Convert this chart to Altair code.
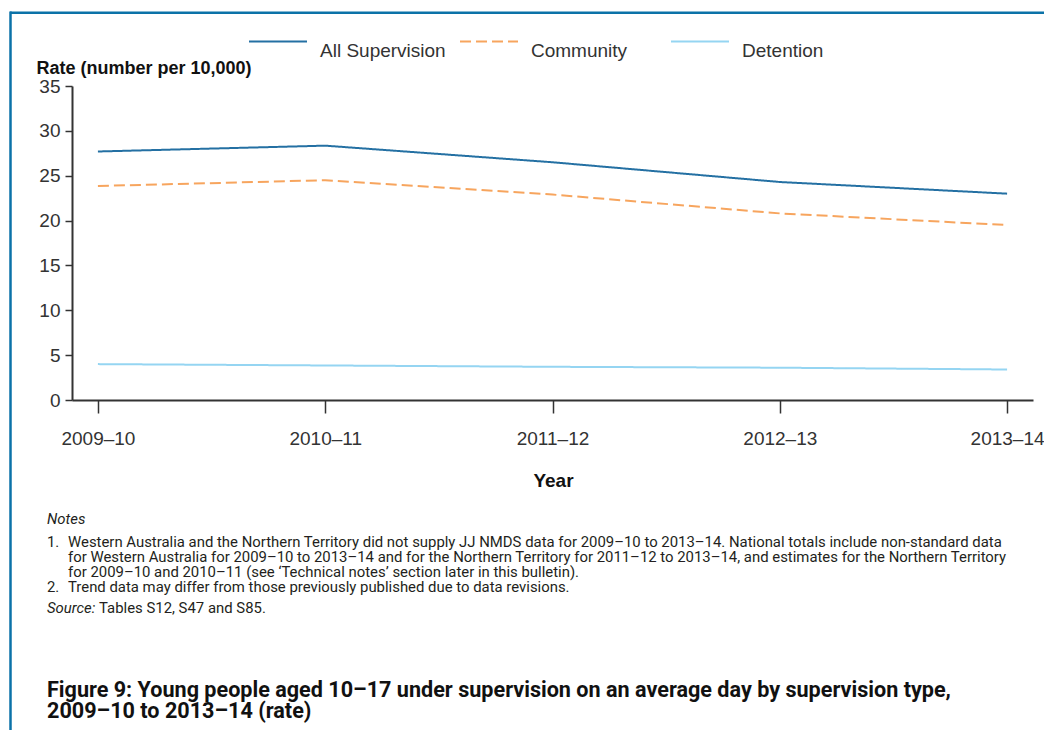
import altair as alt
import pandas as pd

# ---- data ----
years = ["2009–10", "2010–11", "2011–12", "2012–13", "2013–14"]
all_supervision = [27.7, 28.35, 26.5, 24.3, 23.0]
community = [23.85, 24.5, 22.9, 20.8, 19.5]
detention = [4.0, 3.85, 3.7, 3.6, 3.4]
series_names = ["All Supervision", "Community", "Detention"]
series_colors = ["#2470a3", "#f7a55e", "#95d5f2"]
series_dash = [[1, 0], [11, 5], [1, 0]]
y_ticks = [0, 5, 10, 15, 20, 25, 30, 35]

notes_heading = "Notes"
note_numbers = ["1.", "2."]
note_lines = [
    "Western Australia and the Northern Territory did not supply JJ NMDS data for 2009–10 to 2013–14. National totals include non-standard data",
    "for Western Australia for 2009–10 to 2013–14 and for the Northern Territory for 2011–12 to 2013–14, and estimates for the Northern Territory",
    "for 2009–10 and 2010–11 (see ‘Technical notes’ section later in this bulletin).",
    "Trend data may differ from those previously published due to data revisions.",
]
source_label = "Source:"
source_text = "Tables S12, S47 and S85."
figure_title = [
    "Figure 9: Young people aged 10–17 under supervision on an average day by supervision type,",
    "2009–10 to 2013–14 (rate)",
]

rows = []
for name, vals in zip(series_names, [all_supervision, community, detention]):
    for yr, v in zip(years, vals):
        rows.append({"Year": yr, "Rate": v, "Series": name})
df = pd.DataFrame(rows)

AX_FONT = "Liberation Sans, Arial, Helvetica, sans-serif"
NOTE_FONT = "Roboto, sans-serif"
BORDER = "#0b72a8"
W, H = 961, 314

lines = alt.Chart(df).mark_line(strokeWidth=2).encode(
    x=alt.X(
        "Year:N",
        sort=years,
        scale=alt.Scale(type="point", padding=0.114),
        axis=alt.Axis(
            title="Year",
            labelAngle=0,
            labelFontSize=19,
            labelFont=AX_FONT,
            labelColor="#333333",
            labelPadding=16,
            tickSize=13,
            tickColor="#333333",
            tickWidth=1.5,
            domainColor="#333333",
            domainWidth=2,
            titleFont=AX_FONT,
            titleFontSize=19,
            titleFontWeight="bold",
            titleColor="#111111",
            titleX=481,
            titleY=80,
            titleBaseline="middle",
            titleAnchor="middle",
            grid=False,
        ),
    ),
    y=alt.Y(
        "Rate:Q",
        scale=alt.Scale(domain=[0, 35], nice=False),
        axis=alt.Axis(
            title="Rate (number per 10,000)",
            values=y_ticks,
            labelFontSize=19,
            labelFont=AX_FONT,
            labelColor="#333333",
            labelPadding=5,
            tickSize=7,
            tickColor="#333333",
            tickWidth=1.5,
            domainColor="#333333",
            domainWidth=2,
            titleFont=AX_FONT,
            titleFontSize=18,
            titleFontWeight="bold",
            titleColor="#111111",
            titleAngle=0,
            titleAlign="left",
            titleBaseline="middle",
            titleX=-36,
            titleY=-18,
            grid=False,
        ),
    ),
    color=alt.Color(
        "Series:N",
        scale=alt.Scale(domain=series_names, range=series_colors),
        legend=alt.Legend(
            title=None,
            orient="none",
            legendX=176,
            legendY=-74.5,
            direction="horizontal",
            columns=3,
            gridAlign="all",
            columnPadding=10,
            symbolType="stroke",
            symbolSize=3364,
            symbolStrokeWidth=2,
            labelFontSize=19,
            labelFont=AX_FONT,
            labelColor="#333333",
            labelOffset=12,
            labelBaseline="top",
            labelLimit=300,
            padding=0,
        ),
    ),
    strokeDash=alt.StrokeDash(
        "Series:N",
        scale=alt.Scale(domain=series_names, range=series_dash),
        legend=None,
    ),
    order=alt.Order("Series:N"),
)

deco = pd.DataFrame({"k": [0]})
base = alt.Chart(deco)

top_border = base.mark_rule(color=BORDER, strokeWidth=2.5).encode(
    x=alt.value(-62), x2=alt.value(1100), y=alt.value(-73.3)
)
left_border = base.mark_rule(color=BORDER, strokeWidth=2.5).encode(
    x=alt.value(-61.5), y=alt.value(-74.5), y2=alt.value(720)
)

def txt(text, x, y, size, style="normal", weight="normal", color="#231f20"):
    kw = dict(align="left", baseline="alphabetic", font=NOTE_FONT, fontSize=size,
              fontStyle=style, fontWeight=weight, color=color)
    return base.mark_text(**kw).encode(x=alt.value(x), y=alt.value(y), text=alt.value(text))

NS = 14.9
TS = 21.6
LH = 15.3
notes = [
    txt(notes_heading, -25, 437.5, NS, style="italic"),
    txt(note_numbers[0], -25, 460.5, NS),
    txt(note_lines[0], -4, 460.5, NS),
    txt(note_lines[1], -4, 460.5 + LH, NS),
    txt(note_lines[2], -4, 460.5 + 2 * LH, NS),
    txt(note_numbers[1], -25, 460.5 + 3 * LH, NS),
    txt(note_lines[3], -4, 460.5 + 3 * LH, NS),
    txt(source_label, -25, 526.7, NS, style="italic"),
    txt(source_text, 27, 526.7, NS),
    txt(figure_title[0], -25, 610.7, TS, weight="bold", color="#111111"),
    txt(figure_title[1], -25, 632.3, TS, weight="bold", color="#111111"),
]

chart = alt.layer(top_border, left_border, lines, *notes).properties(
    width=W,
    height=H,
    autosize=alt.AutoSizeParams(type="none"),
    padding={"left": 64, "top": 78, "right": 11, "bottom": 330},
    background="white",
).configure_view(stroke=None)

chart.save("out.html", embed_options={"renderer": "svg", "actions": False})
